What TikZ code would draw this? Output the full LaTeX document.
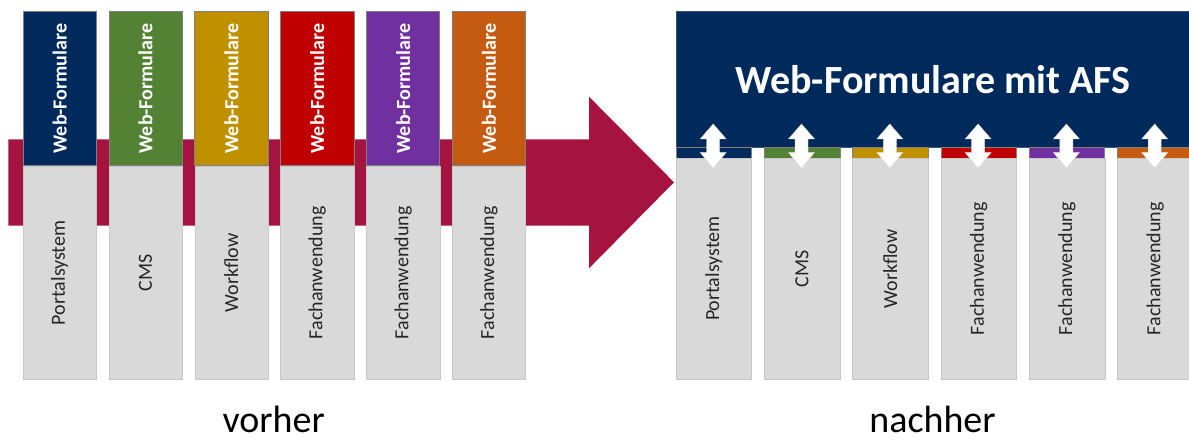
\documentclass[tikz,border=0pt]{standalone}
\usepackage{fontspec}
\setmainfont{Carlito}
\definecolor{navy}{HTML}{002A5C}
\definecolor{cgreen}{HTML}{548235}
\definecolor{cgold}{HTML}{BF9000}
\definecolor{cred}{HTML}{C00000}
\definecolor{cpurple}{HTML}{7030A0}
\definecolor{corange}{HTML}{C55A11}
\definecolor{maroon}{HTML}{A51340}
\definecolor{lgray}{HTML}{D9D9D9}
\definecolor{txtgray}{HTML}{262626}
\begin{document}
\begin{tikzpicture}[x=1pt,y=-1pt,
  topbox/.style={draw=black!50, line width=0.6pt, inner sep=0pt,
    minimum width=73.3pt, minimum height=154.4pt, text=white,
    font=\fontsize{20}{24}\selectfont\bfseries},
  graybox/.style={fill=lgray, draw=lgray!92!black, line width=0.4pt, inner sep=0pt,
    minimum height=#1, text=txtgray, font=\fontsize{20}{24}\selectfont},
  strip/.style={draw=black!50, line width=0.6pt, inner sep=0pt,
    minimum width=75.5pt, minimum height=11.5pt},
  bigbox/.style={fill=navy, draw=navy!80!white, line width=0.6pt, inner sep=0pt,
    minimum width=514pt, minimum height=135.7pt, text=white,
    font=\fontsize{40}{48}\selectfont\bfseries},
  bigarrow/.style={fill=maroon, draw=none},
  dblarrow/.style={fill=white, draw=black!15, line width=0.4pt},
  caption/.style={anchor=base, inner sep=0pt, text=black, font=\fontsize{38}{44}\selectfont}
]
\useasboundingbox (0,0) rectangle (1189,441);
\fill[white] (0,0) rectangle (1189,441);

% big transition arrow
\path[bigarrow] (8.3,139.3) -- (589,139.3) -- (589,96.7) -- (674,182.3)
  -- (589,268.3) -- (589,225.7) -- (8.3,225.7) -- cycle;

% left columns (vorher)
\foreach \c [count=\i from 0] in {navy,cgreen,cgold,cred,cpurple,corange}{
  \pgfmathsetmacro{\cx}{59.65+85.86*\i}
  \node[topbox, fill=\c] (t\i) at (\cx,88.5) {\rotatebox{90}{Web-Formulare}};
}
\foreach \lbl [count=\i from 0] in {Portalsystem,CMS,Workflow,Fachanwendung,Fachanwendung,Fachanwendung}{
  \pgfmathsetmacro{\cx}{59.65+85.86*\i}
  \node[graybox=212.3pt, minimum width=73.3pt] (g\i) at (\cx,272.85) {\rotatebox{90}{\lbl}};
}

% right side (nachher)
\node[bigbox] (afs) at (933,79.15) {Web-Formulare mit AFS};
\foreach \c [count=\i from 0] in {navy,cgreen,cgold,cred,cpurple,corange}{
  \pgfmathsetmacro{\cx}{713.75+88.3*\i}
  \node[strip, fill=\c] (s\i) at (\cx,152.75) {};
}
\foreach \lbl [count=\i from 0] in {Portalsystem,CMS,Workflow,Fachanwendung,Fachanwendung,Fachanwendung}{
  \pgfmathsetmacro{\cx}{713.75+88.3*\i}
  \node[graybox=220.5pt, minimum width=75.5pt] (h\i) at (\cx,268.75) {\rotatebox{90}{\lbl}};
}
% double arrows between AFS box and systems
\foreach \i in {0,...,5}{
  \pgfmathsetmacro{\cx}{713.2+88.3*\i}
  \path[dblarrow] (\cx,124) -- ++(13,15) -- ++(-6.5,0) -- ++(0,13.5) -- ++(6.5,0)
    -- (\cx,168.3) -- ++(-13,-15.8) -- ++(6.5,0) -- ++(0,-13.5) -- ++(-6.5,0) -- cycle;
}

% captions
\node[caption] (vorher) at (273.7,432) {vorher};
\node[caption] (nachher) at (932.5,432) {nachher};
\end{tikzpicture}
\end{document}
